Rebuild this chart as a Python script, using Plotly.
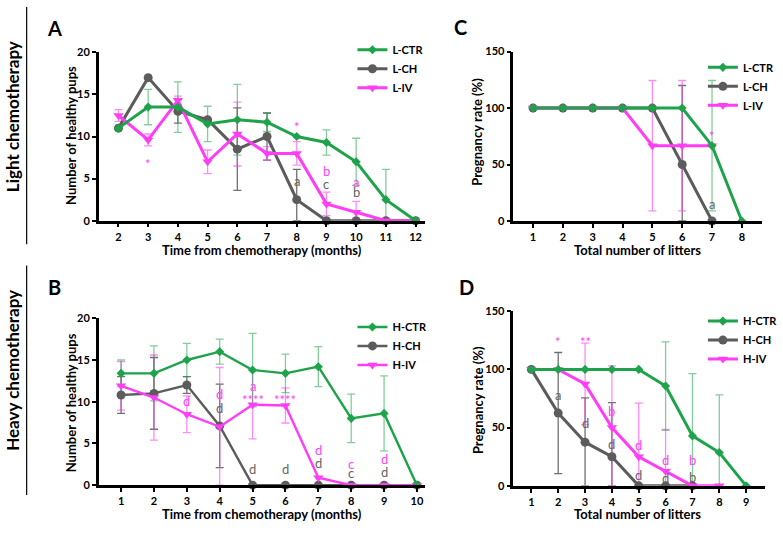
import plotly.graph_objects as go

W, H = 783, 538
FONT = "Lato"
GREEN = "#1ea34b"
GREY = "#5c5c5c"
MAG = "#ff3df5"
ERR = {"ctr": "rgba(30,163,75,0.55)", "ch": "#707070", "iv": "rgba(255,61,245,0.6)"}
ANNC = {"ch": "#666666", "iv": "#ff45f2"}

# ---------------- data ----------------
A_months = [2, 3, 4, 5, 6, 7, 8, 9, 10, 11, 12]
A_ctr = [11, 13.5, 13.5, 11.5, 12, 11.7, 10, 9.3, 7, 2.5, 0]
A_ctr_err = [None, 2.1, 3, 2.1, 4.2, 1.1, None, 1.5, 2.8, 3.6, None]
A_ch = [11, 17, 13, 12, 8.5, 10, 2.5, 0, 0, 0, 0]
A_ch_err = [None, None, 1.4, None, 4.9, 2.8, 3.6, None, None, None, None]
A_iv = [12.5, 9.6, 14.3, 7, 10.3, 8, 8, 2, 1, 0, 0]
A_iv_err = [0.7, 0.7, 0.5, 1.4, 3.8, 0.8, 1.4, 1.4, 1.3, None, None]
A_ann_x = [3, 8, 8, 9, 9, 10, 10]
A_ann_y = [7.2, 11.6, 4.7, 5.9, 4.4, 4.6, 3.4]
A_ann_t = ["*", "*", "a", "b", "c", "a", "b"]
A_ann_g = ["iv", "iv", "ch", "iv", "ch", "iv", "ch"]

B_months = [1, 2, 3, 4, 5, 6, 7, 8, 9, 10]
B_ctr = [13.4, 13.4, 15, 16, 13.8, 13.4, 14.2, 8, 8.6, 0]
B_ctr_err = [1.6, 3.3, 2, 1.5, 4.4, 2.3, 2.4, 2.9, 4.5, None]
B_ch = [10.8, 11, 12, 7.1, 0, 0, 0, 0, 0, 0]
B_ch_err = [2.2, 4.3, 1, 5, None, None, None, None, None, None]
B_iv = [11.9, 10.5, 8.5, 7, 9.65, 9.55, 0.9, 0, 0, 0]
B_iv_err = [2.9, 5.1, 2.2, 7.1, 4.1, 2.1, None, None, None, None]
B_ann_x = [3, 4, 4, 5, 5, 5, 6, 6, 7, 7, 8, 8, 9, 9]
B_ann_y = [10.1, 10.9, 9.2, 11.9, 10.7, 1.95, 10.7, 1.95, 4.2, 2.6, 2.5, 1.4, 3.1, 1.55]
B_ann_t = ["d", "d", "d", "a", "****", "d", "****", "d", "d", "d", "c", "c", "d", "d"]
B_ann_g = ["iv", "iv", "ch", "iv", "iv", "ch", "iv", "ch", "iv", "ch", "iv", "ch", "iv", "ch"]

C_litters = [1, 2, 3, 4, 5, 6, 7, 8]
C_ctr = [100, 100, 100, 100, 100, 100, 66.7, 0]
C_ctr_err = [None, None, None, None, None, None, 57.7, None]
C_ch = [100, 100, 100, 100, 100, 50, 0]
C_ch_err = [None, None, None, None, None, 70, None]
C_iv = [100, 100, 100, 100, 66.7, 66.7, 66.7]
C_iv_err = [None, None, None, None, 57.7, 57.7, None]
C_ann_x = [7, 7]
C_ann_y = [79, 15.2]
C_ann_t = ["*", "a"]
C_ann_g = ["iv", "ch"]

D_litters = [1, 2, 3, 4, 5, 6, 7, 8, 9]
D_ctr = [100, 100, 100, 100, 100, 85.7, 42.9, 28.6, 0]
D_ctr_err = [None, None, None, None, None, 38, 53.5, 49.5, None]
D_ch = [100, 62.5, 37.5, 25, 0, 0, 0]
D_ch_err = [None, 52, 38, 46.4, None, None, None]
D_iv = [100, 100, 87.5, 50, 25, 12.5, 0, 0]
D_iv_err = [None, None, 35, 53, 46, 36, None, None]
D_ann_x = [2, 2, 3, 3, 4, 4, 5, 5, 6, 6, 7, 7]
D_ann_y = [127, 78, 127, 54, 64, 36, 34.7, 9, 22.4, 6.7, 22.4, 8]
D_ann_t = ["*", "a", "**", "d", "b", "d", "d", "d", "d", "d", "b", "b"]
D_ann_g = ["iv", "ch", "iv", "ch", "iv", "ch", "iv", "ch", "iv", "ch", "iv", "ch"]

# ---------------- layout helpers ----------------
def fx(p):
    return p / W


def fy(p):
    return 1 - p / H


fig = go.Figure()


def add_err(x, y, err, key, xa, ya):
    xs, ys, ep, em = [], [], [], []
    for xi, yi, ei in zip(x, y, err):
        if ei is not None:
            xs.append(xi)
            ys.append(yi)
            ep.append(ei)
            em.append(min(ei, yi))
    fig.add_trace(go.Scatter(
        x=xs, y=ys, mode="markers", marker=dict(size=1, opacity=0),
        error_y=dict(type="data", array=ep, arrayminus=em, symmetric=False,
                     color=ERR[key], thickness=1.3, width=4),
        showlegend=False, hoverinfo="skip", xaxis=xa, yaxis=ya))


def add_line(x, y, name, color, symbol, size, lw, xa, ya, legend, rank):
    fig.add_trace(go.Scatter(
        x=x, y=y, mode="lines+markers", name=name,
        line=dict(color=color, width=lw),
        marker=dict(symbol=symbol, size=size, color=color),
        cliponaxis=False, xaxis=xa, yaxis=ya, legend=legend, legendrank=rank))


def panel(x, ctr, ctr_e, ch, ch_e, iv, iv_e, xa, ya, legend, prefix, lw):
    add_err(x, ch, ch_e, "ch", xa, ya)
    add_err(x, iv, iv_e, "iv", xa, ya)
    add_err(x, ctr, ctr_e, "ctr", xa, ya)
    add_line(x[:len(ch)], ch, prefix + "-CH", GREY, "circle", 9, lw, xa, ya, legend, 2)
    add_line(x[:len(iv)], iv, prefix + "-IV", MAG, "triangle-down", 9, lw, xa, ya, legend, 3)
    add_line(x[:len(ctr)], ctr, prefix + "-CTR", GREEN, "diamond", 7, lw, xa, ya, legend, 1)


panel(A_months, A_ctr, A_ctr_err, A_ch, A_ch_err, A_iv, A_iv_err, "x", "y", "legend", "L", 3)
panel(C_litters, C_ctr, C_ctr_err, C_ch, C_ch_err, C_iv, C_iv_err, "x2", "y2", "legend2", "L", 3)
panel(B_months, B_ctr, B_ctr_err, B_ch, B_ch_err, B_iv, B_iv_err, "x3", "y3", "legend3", "H", 2.4)
panel(D_litters, D_ctr, D_ctr_err, D_ch, D_ch_err, D_iv, D_iv_err, "x4", "y4", "legend4", "H", 3)

tickfont = dict(family=FONT, size=11, color="black", weight="bold")
axcommon = dict(showline=True, linecolor="black", linewidth=2.5, ticks="outside",
                ticklen=4, tickwidth=2, tickcolor="black", showgrid=False,
                zeroline=False, tickfont=tickfont, fixedrange=True)

# domains in pixels: (left, right, top, bottom)
dom = {
    "A": (100, 430, 46.5, 219),
    "C": (520, 772, 45.7, 219.3),
    "B": (100, 430, 319, 490),
    "D": (520, 775, 311.7, 490.7),
}


def xdom(k):
    return [fx(dom[k][0]), fx(dom[k][1])]


def ydom(k):
    return [fy(dom[k][3]), fy(dom[k][2])]


fig.update_layout(
    xaxis=dict(axcommon, domain=xdom("A"), range=[1.336, 12.3], tickvals=A_months, anchor="y"),
    yaxis=dict(axcommon, domain=ydom("A"), range=[0, 20], tickvals=[0, 5, 10, 15, 20], anchor="x"),
    xaxis2=dict(axcommon, domain=xdom("C"), range=[0.34, 8.68], tickvals=C_litters, anchor="y2"),
    yaxis2=dict(axcommon, domain=ydom("C"), range=[0, 150], tickvals=[0, 50, 100, 150], anchor="x2"),
    xaxis3=dict(axcommon, domain=xdom("B"), range=[0.32, 10.23], tickvals=B_months, anchor="y3"),
    yaxis3=dict(axcommon, domain=ydom("B"), range=[0, 20], tickvals=[0, 5, 10, 15, 20], anchor="x3"),
    xaxis4=dict(axcommon, domain=xdom("D"), range=[0.33, 9.705], tickvals=D_litters, anchor="y4"),
    yaxis4=dict(axcommon, domain=ydom("D"), range=[0, 150], tickvals=[0, 50, 100, 150], anchor="x4"),
)

legfont = dict(family=FONT, size=11, color="black", weight="bold")


def leg(xp, yp):
    return dict(x=fx(xp), y=fy(yp), xanchor="left", yanchor="top", font=legfont,
                bgcolor="rgba(0,0,0,0)", itemwidth=30, tracegroupgap=0)


fig.update_layout(
    legend=leg(357, 29),
    legend2=leg(712, 47),
    legend3=leg(357, 313),
    legend4=leg(712, 307),
)

# ---------------- annotations ----------------
def add_anns(xs, ys, ts, gs, xa, ya):
    for xi, yi, ti, gi in zip(xs, ys, ts, gs):
        star = "*" in ti
        fig.add_annotation(x=xi, y=yi, xref=xa, yref=ya, text=ti, showarrow=False,
                           font=dict(family=FONT, size=13, color=ANNC[gi]),
                           yshift=-4 if star else 0, borderpad=0)


add_anns(A_ann_x, A_ann_y, A_ann_t, A_ann_g, "x", "y")
add_anns(C_ann_x, C_ann_y, C_ann_t, C_ann_g, "x2", "y2")
add_anns(B_ann_x, B_ann_y, B_ann_t, B_ann_g, "x3", "y3")
add_anns(D_ann_x, D_ann_y, D_ann_t, D_ann_g, "x4", "y4")

titlefont = dict(family=FONT, size=13, color="black", weight="bold")


def ptext(xp, yp, text, font, angle=0):
    fig.add_annotation(x=fx(xp), y=fy(yp), xref="paper", yref="paper", text=text,
                       showarrow=False, font=font, textangle=angle,
                       xanchor="center", yanchor="middle", borderpad=0)


# axis titles
ptext(265, 249, "Time from chemotherapy (months)", titlefont)
ptext(646, 249, "Total number of litters", titlefont)
ptext(265, 520, "Time from chemotherapy (months)", titlefont)
ptext(646, 520, "Total number of litters", titlefont)
ptext(72, 132, "Number of healthy pups", titlefont, -90)
ptext(483, 128, "Pregnancy rate (%)", titlefont, -90)
ptext(72, 406, "Number of healthy pups", titlefont, -90)
ptext(484, 403, "Pregnancy rate (%)", titlefont, -90)

# panel letters
letterfont = dict(family=FONT, size=20, color="black", weight="bold")
ptext(55, 22, "A", letterfont)
ptext(55, 287, "B", letterfont)
ptext(466, 21, "C", letterfont)
ptext(473, 287, "D", letterfont)

# side labels
sidefont = dict(family=FONT, size=17, color="black", weight="bold")
ptext(12, 112, "Light chemotherapy", sidefont, -90)
ptext(12, 372, "Heavy chemotherapy", sidefont, -90)

fig.add_shape(type="line", xref="paper", yref="paper", x0=fx(27), x1=fx(27),
              y0=fy(0), y1=fy(243), line=dict(color="black", width=1.2))
fig.add_shape(type="line", xref="paper", yref="paper", x0=fx(27), x1=fx(27),
              y0=fy(265), y1=fy(500), line=dict(color="black", width=1.2))

fig.update_layout(
    width=W, height=H, autosize=False,
    margin=dict(l=0, r=0, t=0, b=0),
    paper_bgcolor="white", plot_bgcolor="white",
    font=dict(family=FONT),
)

fig.write_html(
    "out.html",
    config={"displayModeBar": False},
    post_script="document.body.style.margin='0';document.body.style.overflow='hidden';",
)
